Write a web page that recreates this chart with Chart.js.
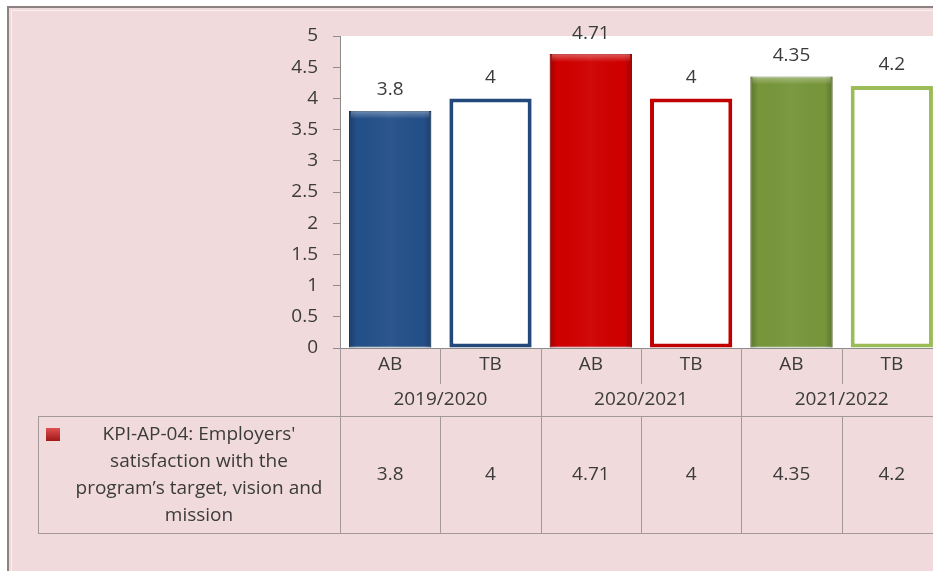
<!DOCTYPE html>
<html><head><meta charset="utf-8">
<script src="https://cdn.jsdelivr.net/npm/chart.js@4"></script>
<style>
html,body{margin:0;padding:0;overflow:hidden;background:#fff;width:933px;height:571px}
#wrap{position:absolute;left:0;top:0;width:950px;height:571px}
</style>
</head><body><div id="wrap"><canvas id="c" width="950" height="571"></canvas></div>
<script>
// ---- data ----
const years = ['2019/2020', '2020/2021', '2021/2022'];
const kinds = ['AB', 'TB', 'AB', 'TB', 'AB', 'TB'];
const values = [3.8, 4, 4.71, 4, 4.35, 4.2];
const seriesLines = ["KPI-AP-04: Employers'", "satisfaction with the", "program\u2019s target, vision and", "mission"];
const yMin = 0, yMax = 5, yStep = 0.5;

// ---- style ----
const FONT = '"Open Sans", "Noto Sans", sans-serif';
const FS = 19;
const TXT = '#3b3b3b';
const fillColors = ['#245089', '#ffffff', '#d00000', '#ffffff', '#77963b', '#ffffff'];
const edgeColors = ['#1b3d68', '#22497a', '#a80000', '#c00000', '#5e7a2c', '#9cbc58'];
const solid = [true, false, true, false, true, false];

const framePlugin = {
  id: 'frame',
  beforeDraw(chart) {
    const c = chart.ctx, a = chart.chartArea;
    c.save();
    c.fillStyle = '#fff'; c.fillRect(0, 0, chart.width, chart.height);
    c.fillStyle = '#f0dadb'; c.fillRect(8, 7, chart.width, chart.height);
    c.strokeStyle = '#8c8282'; c.lineWidth = 2;
    c.beginPath(); c.moveTo(8, chart.height); c.lineTo(8, 7); c.lineTo(chart.width, 7); c.stroke();
    c.strokeStyle = 'rgba(255,255,255,0.6)'; c.lineWidth = 1;
    c.beginPath(); c.moveTo(11.5, chart.height); c.lineTo(11.5, 10.5); c.lineTo(chart.width, 10.5); c.stroke();
    c.fillStyle = '#fff'; c.fillRect(a.left, a.top, a.right - a.left, a.bottom - a.top);
    c.restore();
  }
};

const barDeco = {
  id: 'barDeco',
  afterDatasetsDraw(chart) {
    const c = chart.ctx;
    const meta = chart.getDatasetMeta(0);
    c.save();
    meta.data.forEach((el, i) => {
      const p = el.getProps(['x', 'y', 'base', 'width'], true);
      const l = p.x - p.width / 2, r = p.x + p.width / 2;
      if (solid[i]) {
        const g = c.createLinearGradient(l, 0, r, 0);
        g.addColorStop(0, 'rgba(0,0,0,0.22)');
        g.addColorStop(0.1, 'rgba(0,0,0,0)');
        g.addColorStop(0.5, 'rgba(255,255,255,0.04)');
        g.addColorStop(0.9, 'rgba(0,0,0,0)');
        g.addColorStop(1, 'rgba(0,0,0,0.22)');
        c.fillStyle = g; c.fillRect(l, p.y, p.width, p.base - p.y);
        const gt = c.createLinearGradient(0, p.y, 0, p.y + 8);
        gt.addColorStop(0, 'rgba(255,255,255,0.35)');
        gt.addColorStop(1, 'rgba(255,255,255,0)');
        c.fillStyle = gt; c.fillRect(l + 2, p.y, p.width - 4, 8);
      }
      // value label
      c.fillStyle = TXT; c.font = FS + 'px ' + FONT;
      c.textAlign = 'center'; c.textBaseline = 'middle';
      c.fillText(String(values[i]), p.x, p.y - 21);
    });
    c.restore();
  }
};

const tablePlugin = {
  id: 'table',
  afterDraw(chart) {
    const c = chart.ctx, a = chart.chartArea, x = chart.scales.x;
    const n = kinds.length;
    const w = x.getPixelForValue(1) - x.getPixelForValue(0);
    const edge = i => x.getPixelForValue(0) - w / 2 + i * w;
    const rowTop = 416, rowBot = 533, tblLeft = 38;
    c.save();
    c.strokeStyle = '#a3999b'; c.lineWidth = 1;
    const line = (x1, y1, x2, y2) => { c.beginPath(); c.moveTo(x1, y1); c.lineTo(x2, y2); c.stroke(); };
    for (let i = 0; i <= n; i++) {
      const px = Math.round(edge(i)) + 0.5;
      if (i % 2 === 0) line(px, a.bottom, px, rowBot);
      else { line(px, a.bottom, px, 384); line(px, rowTop, px, rowBot); }
    }
    line(tblLeft, rowTop + 0.5, chart.width, rowTop + 0.5);
    line(tblLeft, rowBot + 0.5, chart.width, rowBot + 0.5);
    line(tblLeft + 0.5, rowTop, tblLeft + 0.5, rowBot);
    c.fillStyle = TXT; c.font = FS + 'px ' + FONT;
    c.textAlign = 'center'; c.textBaseline = 'middle';
    years.forEach((y, k) => c.fillText(y, edge(2 * k + 1), 400));
    values.forEach((v, i) => c.fillText(String(v), x.getPixelForValue(i), 475));
    seriesLines.forEach((s, k) => c.fillText(s, 199, 435 + k * 26.7));
    // legend key
    const g = c.createLinearGradient(0, 428, 0, 441);
    g.addColorStop(0, '#e05050'); g.addColorStop(1, '#a01818');
    c.fillStyle = g; c.fillRect(46, 428, 14, 13);
    c.restore();
  }
};

new Chart(document.getElementById('c'), {
  type: 'bar',
  data: {
    labels: kinds,
    datasets: [{
      label: seriesLines.join(' '),
      data: values,
      backgroundColor: fillColors,
      borderColor: edgeColors,
      borderWidth: solid.map(s => s ? 1 : 4),
      borderSkipped: false,
      barPercentage: 0.82,
      categoryPercentage: 1
    }]
  },
  options: {
    responsive: false,
    animation: false,
    devicePixelRatio: 1,
    layout: { padding: { top: 36, right: 8, bottom: 0, left: 0 } },
    plugins: { legend: { display: false }, tooltip: { enabled: false }, title: { display: false } },
    scales: {
      x: {
        afterFit: s => { s.height = 223; },
        grid: { display: false, drawTicks: false },
        border: { display: true, color: '#8c8c8c' },
        ticks: { color: TXT, font: { family: FONT, size: FS }, padding: 5 }
      },
      y: {
        min: yMin, max: yMax,
        afterFit: s => { s.width = 340; },
        grid: { drawOnChartArea: false, drawTicks: true, tickLength: 7, color: '#8c8c8c' },
        border: { display: true, color: '#8c8c8c' },
        ticks: { stepSize: yStep, color: TXT, font: { family: FONT, size: FS }, padding: 15,
                 callback: v => String(Math.round(v * 100) / 100) }
      }
    }
  },
  plugins: [framePlugin, barDeco, tablePlugin]
});
</script>
</body></html>
